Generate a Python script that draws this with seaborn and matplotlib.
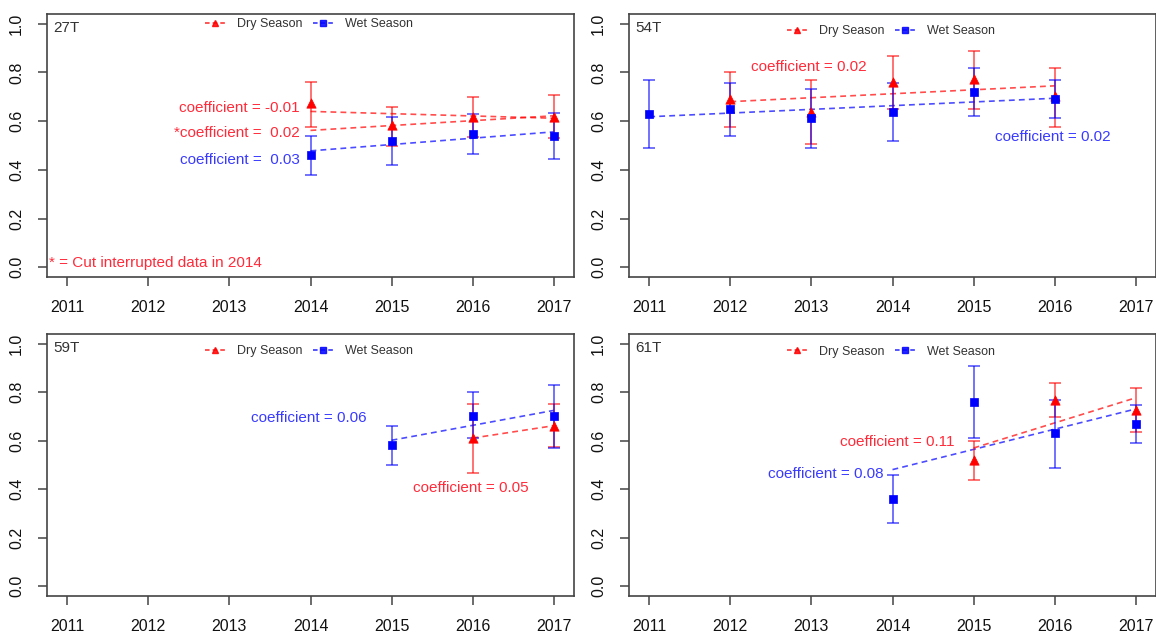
import matplotlib
matplotlib.use("Agg")
import matplotlib.pyplot as plt
from matplotlib.lines import Line2D
import seaborn as sns
import numpy as np

sns.set_style("white")
plt.rcParams["font.family"] = ["Liberation Sans", "DejaVu Sans"]

# ---------------- data ----------------
year_ticks = [2011, 2012, 2013, 2014, 2015, 2016, 2017]
y_ticks = [0.0, 0.2, 0.4, 0.6, 0.8, 1.0]
y_tick_labels = ["0.0", "0.2", "0.4", "0.6", "0.8", "1.0"]

# 27T
t27_dry_years = [2014, 2015, 2016, 2017]
t27_dry_mean = [0.673, 0.584, 0.618, 0.618]
t27_dry_lo = [0.577, 0.500, 0.536, 0.529]
t27_dry_hi = [0.760, 0.659, 0.700, 0.707]
t27_wet_years = [2014, 2015, 2016, 2017]
t27_wet_mean = [0.460, 0.519, 0.549, 0.540]
t27_wet_lo = [0.378, 0.419, 0.467, 0.446]
t27_wet_hi = [0.538, 0.618, 0.628, 0.632]
t27_trend_years = [2014, 2017]
t27_dry_trend = [0.640, 0.612]
t27_dry_cut_trend = [0.562, 0.622]
t27_wet_trend = [0.478, 0.556]

# 54T
t54_dry_years = [2012, 2013, 2014, 2015, 2016]
t54_dry_mean = [0.691, 0.639, 0.762, 0.772, 0.705]
t54_dry_lo = [0.577, 0.508, 0.650, 0.648, 0.577]
t54_dry_hi = [0.800, 0.769, 0.868, 0.889, 0.820]
t54_wet_years = [2011, 2012, 2013, 2014, 2015, 2016]
t54_wet_mean = [0.629, 0.651, 0.611, 0.639, 0.718, 0.691]
t54_wet_lo = [0.489, 0.538, 0.489, 0.518, 0.620, 0.611]
t54_wet_hi = [0.769, 0.758, 0.731, 0.758, 0.820, 0.769]
t54_dry_trend_years = [2012, 2016]
t54_dry_trend = [0.680, 0.745]
t54_wet_trend_years = [2011, 2016]
t54_wet_trend = [0.618, 0.694]

# 59T
t59_dry_years = [2016, 2017]
t59_dry_mean = [0.611, 0.662]
t59_dry_lo = [0.467, 0.575]
t59_dry_hi = [0.751, 0.751]
t59_wet_years = [2015, 2016, 2017]
t59_wet_mean = [0.584, 0.700, 0.700]
t59_wet_lo = [0.501, 0.611, 0.570]
t59_wet_hi = [0.662, 0.800, 0.828]
t59_dry_trend_years = [2016, 2017]
t59_dry_trend = [0.611, 0.662]
t59_wet_trend_years = [2015, 2017]
t59_wet_trend = [0.602, 0.725]

# 61T
t61_dry_years = [2015, 2016, 2017]
t61_dry_mean = [0.522, 0.769, 0.728]
t61_dry_lo = [0.438, 0.699, 0.637]
t61_dry_hi = [0.598, 0.838, 0.817]
t61_wet_years = [2014, 2015, 2016, 2017]
t61_wet_mean = [0.361, 0.760, 0.632, 0.670]
t61_wet_lo = [0.261, 0.610, 0.489, 0.589]
t61_wet_hi = [0.459, 0.907, 0.769, 0.749]
t61_dry_trend_years = [2015, 2017]
t61_dry_trend = [0.570, 0.777]
t61_wet_trend_years = [2014, 2017]
t61_wet_trend = [0.481, 0.731]

legend_labels = ["Dry Season", "Wet Season"]
footnote = "* = Cut interrupted data in 2014"

RED = "#ff0000"
BLUE = "#0000ff"
RED_T = "#ff2b3a"
BLUE_T = "#3a3aff"

panels = [
    dict(name="27T", pos=[47/1156, 1-277/632, 527/1156, 263/632], leg_y=0.962,
         dry=(t27_dry_years, t27_dry_mean, t27_dry_lo, t27_dry_hi),
         wet=(t27_wet_years, t27_wet_mean, t27_wet_lo, t27_wet_hi),
         trends=[(t27_trend_years, t27_dry_trend, RED),
                 (t27_trend_years, t27_dry_cut_trend, RED),
                 (t27_trend_years, t27_wet_trend, BLUE)],
         texts=[(2013.87, 0.652, "coefficient = -0.01", RED_T, "right"),
                (2013.87, 0.553, "*coefficient =  0.02", RED_T, "right"),
                (2013.87, 0.442, "coefficient =  0.03", BLUE_T, "right"),
                (2010.77, 0.018, footnote, RED_T, "left")]),
    dict(name="54T", pos=[629/1156, 1-277/632, 527/1156, 263/632], leg_y=0.935,
         dry=(t54_dry_years, t54_dry_mean, t54_dry_lo, t54_dry_hi),
         wet=(t54_wet_years, t54_wet_mean, t54_wet_lo, t54_wet_hi),
         trends=[(t54_dry_trend_years, t54_dry_trend, RED),
                 (t54_wet_trend_years, t54_wet_trend, BLUE)],
         texts=[(2012.26, 0.824, "coefficient = 0.02", RED_T, "left"),
                (2015.26, 0.533, "coefficient = 0.02", BLUE_T, "left")]),
    dict(name="59T", pos=[47/1156, 1-596/632, 527/1156, 262/632], leg_y=0.935,
         dry=(t59_dry_years, t59_dry_mean, t59_dry_lo, t59_dry_hi),
         wet=(t59_wet_years, t59_wet_mean, t59_wet_lo, t59_wet_hi),
         trends=[(t59_dry_trend_years, t59_dry_trend, RED),
                 (t59_wet_trend_years, t59_wet_trend, BLUE)],
         texts=[(2013.27, 0.694, "coefficient = 0.06", BLUE_T, "left"),
                (2015.27, 0.405, "coefficient = 0.05", RED_T, "left")]),
    dict(name="61T", pos=[629/1156, 1-596/632, 527/1156, 262/632], leg_y=0.932,
         dry=(t61_dry_years, t61_dry_mean, t61_dry_lo, t61_dry_hi),
         wet=(t61_wet_years, t61_wet_mean, t61_wet_lo, t61_wet_hi),
         trends=[(t61_dry_trend_years, t61_dry_trend, RED),
                 (t61_wet_trend_years, t61_wet_trend, BLUE)],
         texts=[(2013.35, 0.593, "coefficient = 0.11", RED_T, "left"),
                (2012.46, 0.463, "coefficient = 0.08", BLUE_T, "left")]),
]

fig = plt.figure(figsize=(11.56, 6.32), dpi=100)

for p in panels:
    ax = fig.add_axes(p["pos"])
    # trend lines
    for tx, ty, col in p["trends"]:
        sns.lineplot(x=tx, y=ty, ax=ax, color=col, linestyle=(0, (3.5, 2.5)),
                     linewidth=1.2, alpha=0.7, zorder=2)
    # error bars
    for (yrs, m, lo, hi), col in [(p["dry"], RED), (p["wet"], BLUE)]:
        m_a, lo_a, hi_a = np.array(m), np.array(lo), np.array(hi)
        ax.errorbar(yrs, m_a, yerr=[m_a - lo_a, hi_a - m_a], fmt="none",
                    ecolor=col, alpha=0.6, elinewidth=1.3, capsize=4.5,
                    capthick=1.3, zorder=2)
    # points
    yrs, m, lo, hi = p["dry"]
    sns.scatterplot(x=yrs, y=m, ax=ax, marker="^", color=RED, edgecolor=RED,
                    s=45, linewidth=0.5, zorder=4)
    yrs, m, lo, hi = p["wet"]
    sns.scatterplot(x=yrs, y=m, ax=ax, marker="s", color=BLUE, edgecolor=BLUE,
                    s=32, linewidth=0.5, zorder=5)

    for tx, ty, s, col, ha in p["texts"]:
        ax.text(tx, ty, s, color=col, fontsize=11, ha=ha, va="center")

    ax.set_xlim(2010.75, 2017.25)
    ax.set_ylim(-0.04, 1.04)
    ax.set_xticks(year_ticks)
    ax.set_xticklabels([str(y) for y in year_ticks])
    ax.set_yticks(y_ticks)
    ax.set_yticklabels(y_tick_labels, rotation=90, va="center")
    ax.set_xlabel("")
    ax.set_ylabel("")
    for sp in ax.spines.values():
        sp.set_color("#444444")
        sp.set_linewidth(1.2)
    ax.tick_params(direction="out", length=6.5, width=1.1, color="#444444",
                   pad=10, labelsize=11.5, labelcolor="#111111")
    ax.tick_params(axis="both", which="both", bottom=True, left=True)

    ax.text(0.012, 0.947, p["name"], transform=ax.transAxes, fontsize=11,
            color="#333333", ha="left", va="center")

    handles = [Line2D([0], [0], color=RED, linestyle=(0, (3, 2)), linewidth=1.1,
                      marker="^", markersize=5, alpha=0.85),
               Line2D([0], [0], color=BLUE, linestyle=(0, (3, 2)), linewidth=1.1,
                      marker="s", markersize=4.5, alpha=0.85)]
    leg = ax.legend(handles, legend_labels, loc="center",
                    bbox_to_anchor=(0.497, p["leg_y"]), ncol=2, frameon=False,
                    fontsize=9, handlelength=1.7, handletextpad=0.9,
                    columnspacing=0.8, borderpad=0.1)
    for t in leg.get_texts():
        t.set_color("#333333")

fig.savefig("out.png", dpi=100)
